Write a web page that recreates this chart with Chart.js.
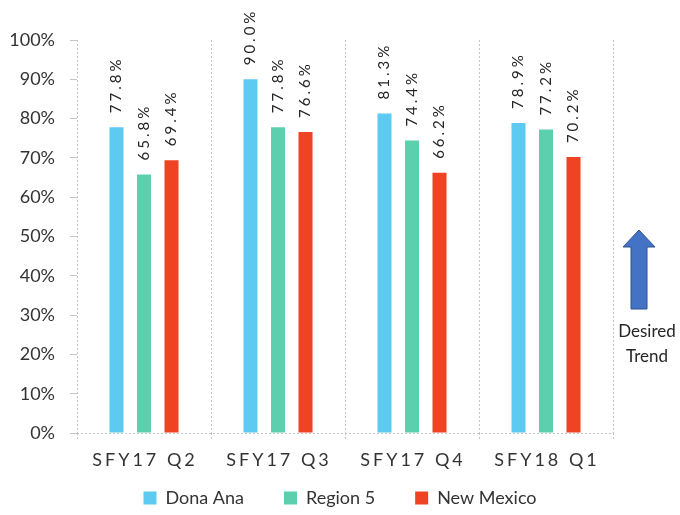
<!DOCTYPE html>
<html>
<head>
<meta charset="utf-8">
<script src="https://cdn.jsdelivr.net/npm/chart.js@4.4.0/dist/chart.umd.min.js"></script>
<style>
  html, body { margin: 0; padding: 0; background: #fff; }
</style>
</head>
<body>
<canvas id="chart" width="680" height="515"></canvas>
<script>
const quarters = ['SFY17 Q2', 'SFY17 Q3', 'SFY17 Q4', 'SFY18 Q1']
const donaAna = [77.8, 90.0, 81.3, 78.9]
const region5 = [65.8, 77.8, 74.4, 77.2]
const newMexico = [69.4, 76.6, 66.2, 70.2]
const yTickValues = [0, 10, 20, 30, 40, 50, 60, 70, 80, 90, 100]

const textColor = '#333333'
const gridColor = '#c4c4c4'
const fontFamily = 'Lato, "Open Sans", sans-serif'

// rotated value labels above each bar
const barLabels = {
  id: 'barLabels',
  afterDatasetsDraw(chart) {
    const ctx = chart.ctx
    ctx.save()
    ctx.fillStyle = '#262626'
    ctx.font = '15px ' + fontFamily
    ctx.letterSpacing = '3px'
    ctx.textAlign = 'left'
    ctx.textBaseline = 'middle'
    chart.data.datasets.forEach((ds, di) => {
      chart.getDatasetMeta(di).data.forEach((bar, i) => {
        ctx.save()
        ctx.translate(bar.x, bar.y - 14)
        ctx.rotate(-Math.PI / 2)
        ctx.fillText(ds.data[i].toFixed(1) + '%', 0, 0)
        ctx.restore()
      })
    })
    ctx.restore()
  }
}

// spaced-out category labels under the axis
const quarterLabels = {
  id: 'quarterLabels',
  afterDraw(chart) {
    const ctx = chart.ctx
    const xScale = chart.scales.x
    ctx.save()
    ctx.fillStyle = textColor
    ctx.font = '18px ' + fontFamily
    ctx.letterSpacing = '3px'
    ctx.textAlign = 'center'
    ctx.textBaseline = 'middle'
    quarters.forEach((q, i) => {
      ctx.fillText(q, xScale.getPixelForValue(i) + 1, 460)
    })
    ctx.restore()
  }
}

// "Desired Trend" arrow on the right
const trendArrow = {
  id: 'trendArrow',
  afterDraw(chart) {
    const ctx = chart.ctx
    const cx = 639
    ctx.save()
    ctx.beginPath()
    ctx.moveTo(cx, 230)
    ctx.lineTo(cx + 16, 247)
    ctx.lineTo(cx + 8, 247)
    ctx.lineTo(cx + 8, 309)
    ctx.lineTo(cx - 8, 309)
    ctx.lineTo(cx - 8, 247)
    ctx.lineTo(cx - 16, 247)
    ctx.closePath()
    ctx.fillStyle = '#4472c4'
    ctx.fill()
    ctx.strokeStyle = '#2f528f'
    ctx.lineWidth = 1
    ctx.stroke()
    ctx.fillStyle = '#262626'
    ctx.font = '17px ' + fontFamily
    ctx.textAlign = 'center'
    ctx.textBaseline = 'middle'
    ctx.fillText('Desired', 647, 332)
    ctx.fillText('Trend', 647, 357)
    ctx.restore()
  }
}

// keep the legend compact while items stay far apart
const legendHeight = {
  id: 'legendHeight',
  beforeLayout(chart) {
    const lg = chart.legend
    if (lg && !lg._fixed) {
      const fit = lg.fit
      lg.fit = function () {
        fit.call(this)
        this.height = 66
      }
      lg._fixed = true
    }
  }
}

new Chart(document.getElementById('chart'), {
  type: 'bar',
  data: {
    labels: quarters,
    datasets: [
      { label: 'Dona Ana', data: donaAna, backgroundColor: '#5dcaf2' },
      { label: 'Region 5', data: region5, backgroundColor: '#5ccfae' },
      { label: 'New Mexico', data: newMexico, backgroundColor: '#f04324' }
    ]
  },
  options: {
    responsive: false,
    animation: false,
    categoryPercentage: 0.616,
    barPercentage: 0.51,
    layout: { padding: { top: 40, left: 0, right: 0, bottom: 0 } },
    plugins: {
      legend: {
        position: 'bottom',
        labels: {
          boxWidth: 13,
          boxHeight: 13,
          padding: 40,
          color: textColor,
          font: { family: fontFamily, size: 18 }
        }
      },
      tooltip: { enabled: false }
    },
    scales: {
      x: {
        offset: true,
        grid: {
          offset: true,
          color: gridColor,
          tickColor: gridColor,
          tickLength: 7,
          tickBorderDash: [2, 2]
        },
        border: { display: false, dash: [2, 2] },
        ticks: { display: false },
        afterFit(s) { s.height = 16 }
      },
      y: {
        min: 0,
        max: 100,
        afterBuildTicks(s) { s.ticks = yTickValues.map(v => ({ value: v })) },
        grid: {
          color: ctx => ctx.tick && ctx.tick.value === 0 ? gridColor : 'rgba(0,0,0,0)',
          tickColor: gridColor,
          tickLength: 7
        },
        border: { display: false, dash: [2, 2] },
        ticks: {
          padding: 15,
          color: textColor,
          font: { family: fontFamily, size: 18 },
          callback: v => v + '%'
        },
        afterFit(s) { s.width = 77 }
      },
      y2: {
        position: 'right',
        grid: { display: false },
        border: { display: false },
        ticks: { display: false },
        afterFit(s) { s.width = 67 }
      }
    }
  },
  plugins: [barLabels, quarterLabels, trendArrow, legendHeight]
})
</script>
</body>
</html>
